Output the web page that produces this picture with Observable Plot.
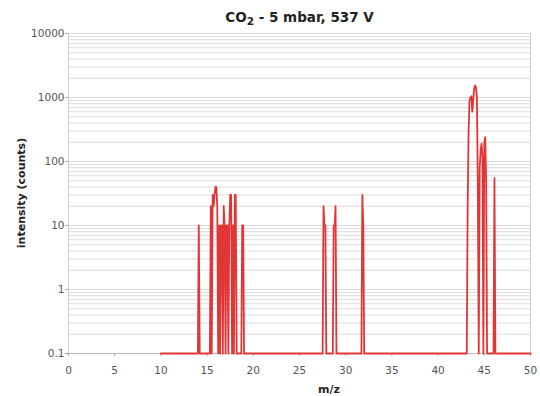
<!DOCTYPE html>
<html><head><meta charset="utf-8">
<script src="https://cdn.jsdelivr.net/npm/d3@7"></script>
<script src="https://cdn.jsdelivr.net/npm/@observablehq/plot@0.6"></script>
<style>
body{margin:0;background:#fff;width:540px;height:396px;overflow:hidden;font-family:"DejaVu Sans",Verdana,sans-serif}
#title{height:26px;line-height:34px;font-weight:bold;font-size:13.5px;text-align:center;padding-left:59px;color:#222;white-space:nowrap}
#title sub{font-size:0.78em;vertical-align:-0.25em;line-height:0}
</style></head><body>
<div id="title">CO<sub>2</sub> - 5 mbar, 537 V</div>
<div id="chart"></div>
<script>
// m/z positions (break points of the trace) and intensity counts
const mz = [10, 14.0, 14.1, 14.2,
  15.3, 15.4, 15.5, 15.6, 15.7, 15.8, 15.9, 16.0, 16.1, 16.2, 16.3, 16.4, 16.5, 16.6, 16.7, 16.8, 16.9,
  17.0, 17.1, 17.2, 17.3, 17.4, 17.5, 17.6, 17.7, 17.8, 17.9, 18.0, 18.1, 18.2, 18.7, 18.8, 18.9, 19.0,
  27.5, 27.6, 27.7, 27.8, 27.9, 28.6, 28.7, 28.8, 28.9, 29.0,
  31.7, 31.8, 31.9, 32.0,
  43.1, 43.2, 43.3, 43.4, 43.5, 43.6, 43.7, 43.8, 43.9, 44.0, 44.1, 44.2, 44.3, 44.4,
  44.5, 44.6, 44.7, 44.8, 44.9, 45.0, 45.1, 45.2, 45.3,
  46.0, 46.1, 46.2, 50];
const counts = [0.1, 0.1, 10, 0.1,
  0.1, 20, 0.1, 30, 20, 30, 40, 40, 20, 0.1, 10, 0.1, 10, 10, 0.1, 20, 10,
  0.1, 10, 10, 0.1, 10, 30, 30, 0.1, 10, 0.1, 30, 30, 0.1, 0.1, 10, 10, 0.1,
  0.1, 20, 10, 10, 0.1, 0.1, 10, 10, 20, 0.1,
  0.1, 30, 10, 0.1,
  0.1, 20, 300, 900, 1000, 1050, 600, 900, 1350, 1550, 1450, 1000, 40, 0.1,
  80, 150, 190, 120, 0.1, 200, 240, 50, 0.1,
  0.1, 55, 0.1, 0.1];
const xTicks = [0, 5, 10, 15, 20, 25, 30, 35, 40, 45, 50];
const yTicks = [0.1, 1, 10, 100, 1000, 10000];
const yTickLabels = ["0.1", "1", "10", "100", "1000", "10000"];
const xLabel = "m/z";
const yLabel = "intensity (counts)";

const data = mz.map((m, i) => ({mz: m, c: counts[i]}));

const plot = Plot.plot({
  width: 540, height: 370,
  marginTop: 7, marginBottom: 43, marginLeft: 68, marginRight: 10,
  style: {fontFamily: "DejaVu Sans, Verdana, sans-serif", fontSize: "10.5px", color: "#555", background: "#fff"},
  x: {domain: [0, 50], label: null},
  y: {type: "log", domain: [0.1, 10000], label: null},
  marks: [
    Plot.gridY({ticks: 20, stroke: "#dcdcdc", strokeOpacity: 1}),
    Plot.ruleX([50], {stroke: "#d0d0d0"}),
    Plot.ruleY([0.1], {stroke: "#bbb"}),
    Plot.ruleX([0], {stroke: "#ccc"}),
    Plot.axisY({ticks: yTicks, tickFormat: d => yTickLabels[yTicks.indexOf(d)], tickSize: 3, tickPadding: 1, stroke: "#aaa", label: null}),
    Plot.axisX({ticks: xTicks, tickSize: 3, tickPadding: 10, stroke: "#aaa", label: null}),
    Plot.line(data, {x: "mz", y: "c", stroke: "#e23636", strokeWidth: 1.8})
  ]
});
document.getElementById("chart").appendChild(plot);
const svg = d3.select(plot);
svg.append("text").attr("transform", "translate(21,167) rotate(-90)")
  .attr("text-anchor", "middle").attr("dy", "0.35em")
  .style("font-weight", "bold").style("font-size", "11px").attr("fill", "#222").text(yLabel);
svg.append("text").attr("x", 329).attr("y", 363)
  .attr("text-anchor", "middle").attr("dy", "0.35em")
  .style("font-weight", "bold").style("font-size", "11px").attr("fill", "#222").text(xLabel);
</script>
</body></html>
